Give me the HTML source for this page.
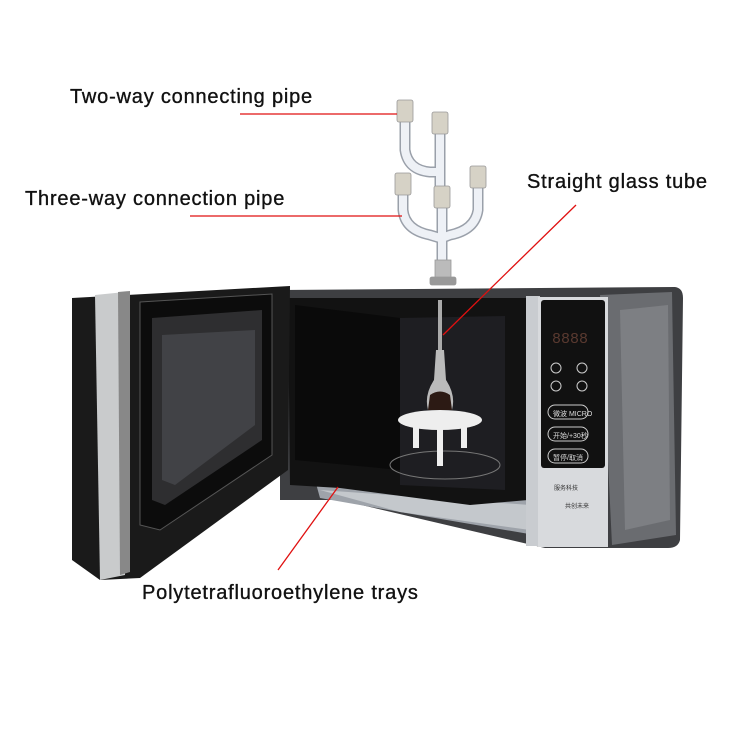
<!DOCTYPE html>
<html><head><style>
body{margin:0;background:#fff;}
svg{display:block}
text{font-family:"Liberation Sans",sans-serif;}
.lb{font-size:20px;letter-spacing:0.8px;fill:#111;stroke:#111;stroke-width:0.35px;}
</style></head><body>
<svg width="750" height="750" viewBox="0 0 750 750">
<!-- microwave body -->
<path d="M280 290 L675 287 Q683 288 683 298 L680 540 Q678 548 668 548 L545 548 L340 500 L280 500 Z" fill="#3e3f42"/>
<path d="M600 295 L672 292 L676 535 L612 545 Z" fill="#6a6c70"/>
<path d="M620 310 L668 305 L670 520 L625 530 Z" fill="#8a8c90" opacity="0.6"/>
<!-- bottom tray -->
<path d="M315 480 L535 480 L535 535 L400 512 L320 498 Z" fill="#9ea3aa"/>
<path d="M320 490 L530 505 L530 530 L400 512 Z" fill="#c4c8cc"/>
<!-- interior -->
<path d="M288 298 L528 298 L528 500 L470 505 L340 488 L290 485 Z" fill="#121212"/>
<path d="M400 318 L505 316 L505 490 L400 485 Z" fill="#1e1e22"/>
<path d="M295 305 L400 318 L400 470 L295 460 Z" fill="#0a0a0a"/>
<ellipse cx="445" cy="465" rx="55" ry="14" fill="none" stroke="#777" stroke-width="1"/>
<!-- control panel -->
<rect x="526" y="296" width="14" height="250" fill="#c9ccd0"/>
<rect x="538" y="297" width="70" height="250" fill="#d8dadd"/>
<rect x="541" y="300" width="64" height="168" rx="3" fill="#111"/>
<text x="552" y="343" style="font-size:15px;fill:#5a3a30;font-family:'Liberation Mono',monospace">8888</text>
<g fill="none" stroke="#ccc" stroke-width="1">
<circle cx="556" cy="368" r="5"/><circle cx="582" cy="368" r="5"/>
<circle cx="556" cy="386" r="5"/><circle cx="582" cy="386" r="5"/>
<rect x="548" y="405" width="40" height="14" rx="7"/>
<rect x="548" y="427" width="40" height="14" rx="7"/>
<rect x="548" y="449" width="40" height="14" rx="7"/>
</g>
<text x="553" y="416" style="font-size:7px;fill:#ddd">微波 MICRO</text>
<text x="553" y="438" style="font-size:7px;fill:#ddd">开始/+30秒</text>
<text x="553" y="460" style="font-size:7px;fill:#ddd">暂停/取消</text>
<text x="554" y="490" style="font-size:6px;fill:#333">服务科技</text>
<text x="565" y="508" style="font-size:6px;fill:#333">共创未来</text>
<!-- door -->
<path d="M72 298 L290 286 L288 470 L140 578 L100 580 L72 560 Z" fill="#1a1a1a"/>
<path d="M95 295 L125 292 L125 575 L100 580 Z" fill="#c9cbcc"/>
<path d="M118 292 L130 291 L130 572 L120 575 Z" fill="#888"/>
<path d="M140 302 L272 294 L272 455 L160 530 L140 525 Z" fill="#0c0c0c" stroke="#555" stroke-width="1"/>
<path d="M152 318 L262 310 L262 440 L165 505 L152 500 Z" fill="#2e2e30"/>
<path d="M162 335 L255 330 L255 425 L175 485 L162 480 Z" fill="#4a4c50" opacity="0.7"/>
<!-- flask and tray -->
<rect x="438" y="300" width="4" height="55" fill="#aaa"/>
<path d="M436 350 L444 350 L446 380 Q456 395 452 410 L428 410 Q424 395 434 380 Z" fill="#bbb"/>
<path d="M430 395 Q440 388 450 395 L452 410 L428 410 Z" fill="#2c1a14"/>
<ellipse cx="440" cy="420" rx="42" ry="10" fill="#eee"/>
<rect x="413" y="424" width="6" height="24" fill="#eee"/>
<rect x="437" y="426" width="6" height="40" fill="#eee"/>
<rect x="461" y="424" width="6" height="24" fill="#eee"/>
<!-- glass pipes -->
<g fill="none" stroke-linecap="round">
<g stroke="#9aa0aa" stroke-width="11">
<path d="M405 120 L405 150 Q408 170 430 172 L440 172"/>
<path d="M440 132 L440 195"/>
<path d="M403 192 L403 210 Q405 230 430 235 L440 238"/>
<path d="M478 185 L478 210 Q475 230 450 235 L442 238"/>
<path d="M442 205 L442 262"/>
</g>
<g stroke="#eef1f6" stroke-width="8">
<path d="M405 120 L405 150 Q408 170 430 172 L440 172"/>
<path d="M440 132 L440 195"/>
<path d="M403 192 L403 210 Q405 230 430 235 L440 238"/>
<path d="M478 185 L478 210 Q475 230 450 235 L442 238"/>
<path d="M442 205 L442 262"/>
</g>
</g>
<g fill="#d6d2c6" stroke="#999" stroke-width="0.8">
<rect x="397" y="100" width="16" height="22" rx="2"/>
<rect x="432" y="112" width="16" height="22" rx="2"/>
<rect x="395" y="173" width="16" height="22" rx="2"/>
<rect x="434" y="186" width="16" height="22" rx="2"/>
<rect x="470" y="166" width="16" height="22" rx="2"/>
<rect x="435" y="260" width="16" height="18" fill="#bbb"/>
<rect x="430" y="277" width="26" height="8" rx="2" fill="#999"/>
</g>
<!-- labels -->
<text class="lb" x="70" y="103">Two-way connecting pipe</text>
<text class="lb" x="25" y="205">Three-way connection pipe</text>
<text class="lb" x="527" y="188">Straight glass tube</text>
<text class="lb" x="142" y="599">Polytetrafluoroethylene trays</text>
<g stroke="#e01010" stroke-width="1.3">
<line x1="240" y1="114" x2="397" y2="114"/>
<line x1="190" y1="216" x2="402" y2="216"/>
<line x1="576" y1="205" x2="443" y2="335"/>
<line x1="278" y1="570" x2="338" y2="487"/>
</g>
</svg>
</body></html>
